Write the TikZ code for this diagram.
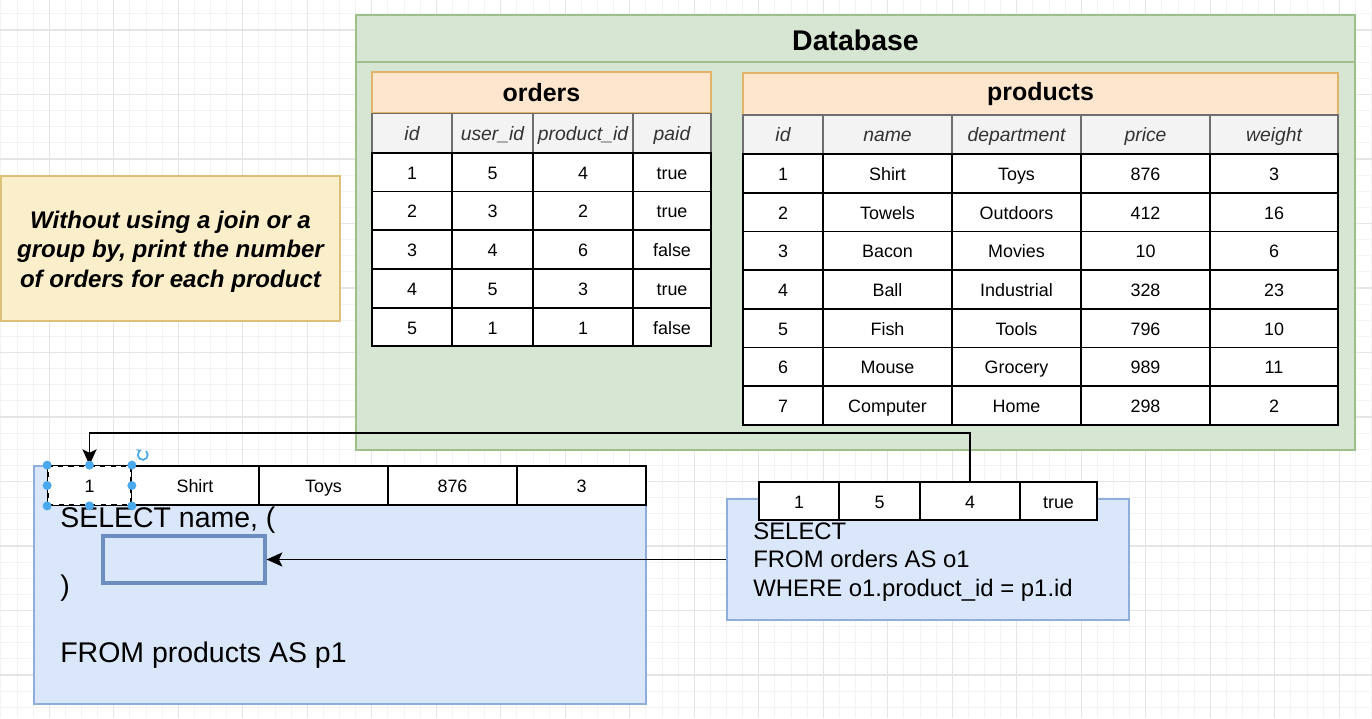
\documentclass[tikz,border=0pt]{standalone}
\usepackage{fontspec}
\setmainfont{Liberation Sans}
\usetikzlibrary{arrows.meta}

\definecolor{dbfill}{HTML}{D6E6D2}
\definecolor{dbline}{HTML}{9DC08B}
\definecolor{tfill}{HTML}{FDE6CD}
\definecolor{tline}{HTML}{E2B369}
\definecolor{hfill}{HTML}{F3F3F3}
\definecolor{hline}{HTML}{6E6E6E}
\definecolor{qfill}{HTML}{FBEFCB}
\definecolor{qline}{HTML}{DCC078}
\definecolor{sqlfill}{HTML}{DAE7FA}
\definecolor{sqlline}{HTML}{8FAEDB}
\definecolor{slotline}{HTML}{6C8EBF}
\definecolor{handle}{HTML}{4AA8EC}
\definecolor{gridminor}{HTML}{F3F3F3}
\definecolor{gridmajor}{HTML}{E5E5E5}

\tikzset{
  cell/.style={draw=black, line width=1pt, fill=white, minimum height=0.774cm, inner sep=0pt,
               text height=0.8em, text depth=0em, font=\fontsize{10.2}{12}\selectfont},
  headcell/.style={cell, draw=hline, fill=hfill, minimum height=0.78cm, text=black!80, font=\fontsize{11}{13}\selectfont\itshape},
  tabletitle/.style={draw=tline, line width=1pt, fill=tfill, inner sep=0pt, font=\fontsize{14.2}{16}\selectfont\bfseries},
  sqlbox/.style={draw=sqlline, line width=1pt, fill=sqlfill, inner sep=0pt},
  sqltext/.style={anchor=west, inner sep=0pt, align=left},
  link/.style={line width=1.1pt, -{Stealth[length=9pt, width=8pt, inset=2pt]}},
  handledot/.style={circle, fill=handle, inner sep=0pt, minimum size=0.18cm},
}

\begin{document}
\begin{tikzpicture}[x=0.02cm, y=-0.02cm]
    \useasboundingbox (0,0) rectangle (1372,718);

    % 背景のグリッド
    \foreach \k in {0,...,85}
      \draw[gridminor, line width=0.5pt] ({0.9+16.125*\k},0) -- ({0.9+16.125*\k},718);
    \foreach \k in {0,...,44}
      \draw[gridminor, line width=0.5pt] (0,{13.9+16.125*\k}) -- (1372,{13.9+16.125*\k});
    \foreach \k in {0,...,20}
      \draw[gridmajor, line width=0.6pt] ({49.3+64.5*\k},0) -- ({49.3+64.5*\k},718);
    \foreach \k in {0,...,10}
      \draw[gridmajor, line width=0.6pt] (0,{30+64.5*\k}) -- (1372,{30+64.5*\k});

    % データベースの枠
    \node[draw=dbline, fill=dbfill, line width=1pt, minimum width=19.98cm, minimum height=8.7cm, inner sep=0pt] (db) at (855.5,232.5) {};
    \coordinate (dbsep) at (356,62);
    \draw[dbline, line width=1pt] (dbsep) -- (dbsep -| db.east);
    \node[font=\fontsize{16.2}{18}\selectfont\bfseries] (dbtitle) at (855.5,40) {Database};

    % orders テーブル
    \node[tabletitle, minimum width=6.78cm, minimum height=0.82cm] (otitle) at (541.5,92.5) {orders};
    \foreach \x/\w/\t [count=\j] in {412/1.6cm/id, 492.5/1.62cm/user\_id, 583/2cm/product\_id, 672/1.56cm/paid}
      \node[headcell, minimum width=\w] (oh-\j) at (\x,133) {\t};
    \foreach \a/\b/\c/\d [count=\i] in {1/5/4/true, 2/3/2/true, 3/4/6/false, 4/5/3/true, 5/1/1/false} {
      \node[cell, minimum width=1.6cm] (o-\i-1) at (412,133.5+38.7*\i) {\a};
      \node[cell, minimum width=1.62cm] (o-\i-2) at (492.5,133.5+38.7*\i) {\b};
      \node[cell, minimum width=2cm] (o-\i-3) at (583,133.5+38.7*\i) {\c};
      \node[cell, minimum width=1.56cm] (o-\i-4) at (672,133.5+38.7*\i) {\d};
    }

    % products テーブル
    \node[tabletitle, minimum width=11.9cm, minimum height=0.84cm] (ptitle) at (1040.5,94) {products};
    \foreach \x/\w/\t [count=\j] in {783/1.6cm/id, 887.5/2.58cm/name, 1016.5/2.58cm/department, 1145.5/2.58cm/price, 1274/2.56cm/weight}
      \node[headcell, minimum width=\w] (ph-\j) at (\x,134.5) {\t};
    \foreach \a/\b/\c/\d/\e [count=\i] in {1/Shirt/Toys/876/3, 2/Towels/Outdoors/412/16, 3/Bacon/Movies/10/6, 4/Ball/Industrial/328/23, 5/Fish/Tools/796/10, 6/Mouse/Grocery/989/11, 7/Computer/Home/298/2} {
      \node[cell, minimum width=1.6cm] (q-\i-1) at (783,134.65+38.71*\i) {\a};
      \node[cell, minimum width=2.58cm] (q-\i-2) at (887.5,134.65+38.71*\i) {\b};
      \node[cell, minimum width=2.58cm] (q-\i-3) at (1016.5,134.65+38.71*\i) {\c};
      \node[cell, minimum width=2.58cm] (q-\i-4) at (1145.5,134.65+38.71*\i) {\d};
      \node[cell, minimum width=2.56cm] (q-\i-5) at (1274,134.65+38.71*\i) {\e};
    }

    % 課題
    \node[draw=qline, fill=qfill, line width=1pt, minimum width=6.78cm, minimum height=2.9cm, align=center,
          font=\fontsize{13.7}{16.7}\selectfont\bfseries\itshape] (task) at (170.5,248.5) {};
    \node[align=center, font=\fontsize{13.7}{16.7}\selectfont\bfseries\itshape] (tasktext) at (170.5,251.5)
          {Without using a join or a\\group by, print the number\\of orders for each product};

    % 外側のクエリ
    \node[sqlbox, minimum width=12.24cm, minimum height=4.76cm] (outer) at (340,585) {};
    \foreach \x/\w/\t [count=\j] in {89.5/1.66cm/1, 195/2.56cm/Shirt, 323.5/2.58cm/Toys, 452.5/2.58cm/876, 581.5/2.58cm/3}
      \node[cell, minimum width=\w, minimum height=0.78cm] (p-\j) at (\x,485.5) {\t};
    \node[cell, dashed, minimum width=1.66cm, minimum height=0.78cm] (p-1) at (89.5,485.5) {1};
    \node[draw=slotline, line width=1.8pt, fill=sqlfill, minimum width=3.24cm, minimum height=0.94cm, inner sep=0pt] (slot) at (184,559.5) {};
    \node[sqltext, font=\fontsize{16.2}{19}\selectfont] (sel) at (60,520) {SELECT name, (};
    \node[sqltext, font=\fontsize{16.2}{19}\selectfont] (close) at (60,588) {)};
    \node[sqltext, font=\fontsize{16.2}{19}\selectfont] (from) at (60,655) {FROM products AS p1};

    % サブクエリ
    \node[sqlbox, minimum width=8.04cm, minimum height=2.42cm] (inner) at (928,559.5) {};
    \foreach \x/\w/\t [count=\j] in {799/1.6cm/1, 879.5/1.62cm/5, 970/2cm/4, 1058.5/1.54cm/true}
      \node[cell, minimum width=\w, minimum height=0.76cm] (r-\j) at (\x,501) {\t};
    \node[sqltext, font=\fontsize{13.6}{16.4}\selectfont] (sub) at (753,562)
          {SELECT\\FROM orders AS o1\\WHERE o1.product\_id = p1.id};

    % 矢印
    \coordinate (turn) at (0,433);
    \draw[link] (r-3.north) -- (r-3.north |- turn) -| (p-1.north);
    \draw[link] (inner.west) -- (slot.east);

    % 選択ハンドル
    \foreach \p [count=\k] in {north west, north, north east, west, east, south west, south, south east}
      \node[handledot] (h\k) at (p-1.\p) {};
    \draw[handle, line width=1pt, -{Stealth[length=2.5pt, width=3pt]}] (146,451) arc[start angle=50, end angle=-250, radius=0.1cm];

\end{tikzpicture}
\end{document}
